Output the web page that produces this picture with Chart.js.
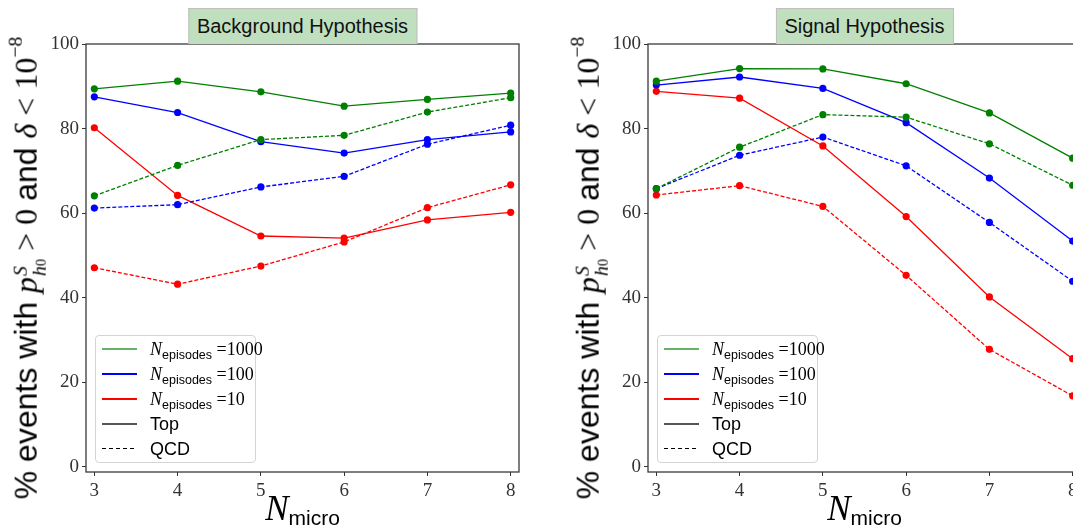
<!DOCTYPE html>
<html><head><meta charset="utf-8">
<script src="https://cdn.jsdelivr.net/npm/chart.js@4"></script>
<style>
html,body{margin:0;padding:0;width:1073px;height:527px;overflow:hidden;background:#fff}
body{position:relative}
canvas{position:absolute;top:0}
#c1{left:0}
#c2{left:540px}
.title{position:absolute;top:8px;height:36px;background:#bfdfbf;border:1px solid #bfbfbf;border-bottom:none;box-sizing:border-box;
  font-family:"Liberation Sans",sans-serif;font-size:20px;color:#111;line-height:34px;padding:0 8px;white-space:nowrap;transform:translateX(-50%)}
.ylab{position:absolute;white-space:nowrap;transform:translate(-50%,-50%) rotate(-90deg);font-size:32px;color:#000;line-height:1}
.sans{font-family:"Liberation Sans",sans-serif}
.ser{font-family:"Liberation Serif",serif}
.it{font-family:"Liberation Serif",serif;font-style:italic}
.ss{display:inline-block;font-size:0.62em;line-height:0.95em;vertical-align:-0.45em;margin-left:1px}
.ss .b0{font-size:0.72em;font-style:normal}
.sup{font-size:0.62em;vertical-align:0.75em}
.xlab{position:absolute;white-space:nowrap;transform:translateX(-50%);top:489px;color:#000}
.xlab .it{font-size:35px}
.xlab .sans{font-size:21px;position:relative;top:5px}
.legend{position:absolute;top:335px;width:161px;height:128px;border:1px solid #d4d4d4;border-radius:4px;box-sizing:border-box;background:rgba(255,255,255,0.8)}
.row{position:absolute;left:0;height:24px;width:100%}
.ln{position:absolute;left:6px;width:35px;top:11px}
.lt{position:absolute;left:54px;top:0;white-space:nowrap;line-height:24px;font-size:18px;color:#000}
.lt .it{font-size:18px}
.lt .sub{font-family:"Liberation Sans",sans-serif;font-size:12.5px;position:relative;top:4px}
</style>
</head><body>
<canvas id="c1" width="540" height="527"></canvas>
<canvas id="c2" width="560" height="527"></canvas>
<div id="overlay"></div>
<script>
// ---------- data ----------
const nMicro = [3, 4, 5, 6, 7, 8];
const yTicks = [0, 20, 40, 60, 80, 100];
const episodes = ['1000', '100', '10'];
const panelTitles = ['Background Hypothesis', 'Signal Hypothesis'];

// Background hypothesis
const bgTop1000 = [89.4, 91.2, 88.7, 85.3, 86.9, 88.4];
const bgQcd1000 = [64.1, 71.3, 77.4, 78.4, 83.9, 87.3];
const bgTop100  = [87.5, 83.8, 76.9, 74.2, 77.4, 79.2];
const bgQcd100  = [61.2, 62.0, 66.2, 68.7, 76.3, 80.8];
const bgTop10   = [80.2, 64.2, 54.6, 54.1, 58.4, 60.2];
const bgQcd10   = [47.1, 43.2, 47.5, 53.2, 61.3, 66.7];

// Signal hypothesis
const sigTop1000 = [91.2, 94.2, 94.1, 90.6, 83.7, 73.0];
const sigQcd1000 = [65.8, 75.6, 83.3, 82.7, 76.4, 66.6];
const sigTop100  = [90.3, 92.2, 89.5, 81.4, 68.3, 53.4];
const sigQcd100  = [65.8, 73.7, 78.0, 71.2, 57.8, 43.9];
const sigTop10   = [88.8, 87.2, 75.9, 59.2, 40.2, 25.6];
const sigQcd10   = [64.3, 66.5, 61.6, 45.3, 27.8, 16.8];

// ---------- styling ----------
const colors = ['#008000', '#0000ff', '#ff0000'];

function pts(arr){ return nMicro.map((x,i)=>({x:x, y:arr[i]})); }

function makeDatasets(top, qcd){
  const ds = [];
  for (let k=0;k<3;k++){
    ds.push({label:'Top '+episodes[k], data:pts(top[k]), borderColor:colors[k], backgroundColor:colors[k],
      borderWidth:1.3, pointRadius:3.6, pointBorderWidth:0, pointBackgroundColor:colors[k], tension:0});
    ds.push({label:'QCD '+episodes[k], data:pts(qcd[k]), borderColor:colors[k], backgroundColor:colors[k],
      borderWidth:1.3, borderDash:[4,2], pointRadius:3.6, pointBorderWidth:0, pointBackgroundColor:colors[k], tension:0});
  }
  return ds;
}

const boxPlugin = {id:'box', afterDatasetsDraw(chart){
  const {ctx, chartArea:a} = chart;
  ctx.save(); ctx.strokeStyle='#3a3a3a'; ctx.lineWidth=1.3;
  ctx.strokeRect(a.left, a.top, a.right-a.left, a.bottom-a.top);
  ctx.restore();
}};

function makeChart(id, datasets, padL, padR){
  return new Chart(document.getElementById(id), {
    type:'line',
    data:{datasets:datasets},
    options:{
      responsive:false, animation:false, devicePixelRatio:1,
      layout:{padding:{left:padL, right:padR, top:44, bottom:25}},
      plugins:{legend:{display:false}, tooltip:{enabled:false}},
      scales:{
        x:{type:'linear', min:2.9, max:8.1,
          afterBuildTicks:s=>{ s.ticks = nMicro.map(v=>({value:v})); },
          afterFit:s=>{ s.height = 30; },
          ticks:{font:{family:'Liberation Serif', size:19}, color:'#333', padding:4, maxRotation:0, autoSkip:false},
          grid:{drawOnChartArea:false, drawTicks:true, tickLength:4, color:'#333', lineWidth:1},
          border:{display:false}},
        y:{type:'linear', min:-1.2, max:100,
          afterBuildTicks:s=>{ s.ticks = yTicks.map(v=>({value:v})); },
          afterFit:s=>{ s.width = 45; },
          ticks:{font:{family:'Liberation Serif', size:19}, color:'#333', padding:3},
          grid:{drawOnChartArea:false, drawTicks:true, tickLength:4, color:'#333', lineWidth:1},
          border:{display:false}}
      }
    },
    plugins:[boxPlugin]
  });
}

const ch1 = makeChart('c1', makeDatasets([bgTop1000,bgTop100,bgTop10],[bgQcd1000,bgQcd100,bgQcd10]), 41, 21);
const ch2 = makeChart('c2', makeDatasets([sigTop1000,sigTop100,sigTop10],[sigQcd1000,sigQcd100,sigQcd10]), 63, 19);

// ---------- text overlays ----------
const ov = document.getElementById('overlay');
const legendLines = [
  'height:2px;background:rgba(0,128,0,0.6)',
  'height:1.5px;background:#0000ff',
  'height:1.5px;background:#ff0000',
  'height:2px;background:#555',
  'height:1px;background:repeating-linear-gradient(90deg,#000 0 4.5px,transparent 4.5px 7px)'
];
function legendHTML(){
  let h = '';
  const labels = episodes.map(e=>'<span class="it">N</span><span class="sub">episodes</span><span class="ser"> =' + e + '</span>');
  labels.push('<span class="sans">Top</span>');
  labels.push('<span class="sans">QCD</span>');
  labels.forEach((l,i)=>{
    h += '<div class="row" style="top:'+(1+i*25)+'px"><div class="ln" style="'+legendLines[i]+'"></div><div class="lt">'+l+'</div></div>';
  });
  return h;
}
[ch1, ch2].forEach((ch, idx)=>{
  const off = idx===0 ? 0 : 540;
  const a = ch.chartArea;
  const cx = off + (a.left + a.right)/2;
  const cy = (a.top + a.bottom)/2;
  const t = document.createElement('div'); t.className='title'; t.textContent = panelTitles[idx];
  t.style.left = cx+'px'; ov.appendChild(t);
  const y = document.createElement('div'); y.className='ylab';
  y.innerHTML = '<span class="sans">% events with </span><span class="it">p</span><span class="ss it">S<br>h<span class="b0">0</span></span><span class="ser"> &gt; 0 </span><span class="sans">and </span><span class="it">δ</span><span class="ser"> &lt; 10<span class="sup">−8</span></span>';
  y.style.left = (off + a.left - 58)+'px'; y.style.top = (cy + 10)+'px'; ov.appendChild(y);
  const x = document.createElement('div'); x.className='xlab';
  x.innerHTML = '<span class="it">N</span><span class="sans">micro</span>';
  x.style.left = cx+'px'; ov.appendChild(x);
  const lg = document.createElement('div'); lg.className='legend';
  lg.style.left = (off + a.left + 9)+'px'; lg.innerHTML = legendHTML(); ov.appendChild(lg);
});
</script>
</body></html>
